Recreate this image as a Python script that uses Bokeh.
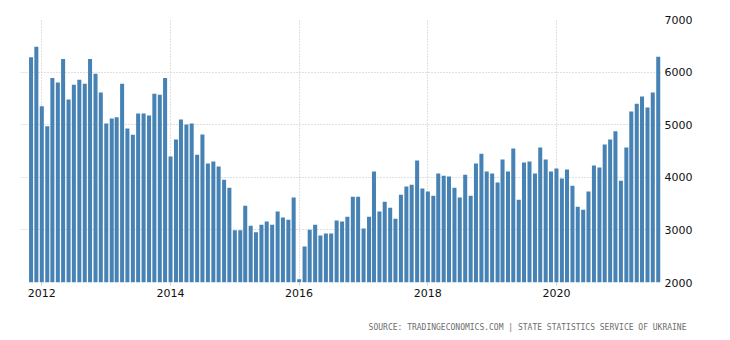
import pandas as pd
from bokeh.plotting import figure
from bokeh.models import Range1d, FixedTicker, DatetimeTickFormatter, Title, ColumnDataSource, NumeralTickFormatter
from bokeh.embed import file_html
from bokeh.resources import INLINE

# Monthly values, Nov 2011 - Aug 2021
start_month = "2011-11-01"
values = [
    6280, 6480,
    5350, 4970, 5890, 5800, 6250, 5480, 5760, 5855, 5780, 6250, 5970, 5610,
    5025, 5120, 5140, 5780, 4930, 4810, 5215, 5215, 5175, 5590, 5570, 5890,
    4395, 4720, 5100, 5005, 5025, 4430, 4815, 4261, 4300, 4204, 3955, 3800,
    2995, 2995, 3460, 3080, 2955, 3100, 3160, 3100, 3350, 3235, 3195, 3615,
    2063, 2685, 3005, 3100, 2895, 2930, 2930, 3180, 3160, 3250, 3630, 3630,
    3025, 3250, 4108, 3350, 3535, 3420, 3210, 3670, 3825, 3860, 4318, 3785,
    3730, 3650, 4070, 4030, 4013, 3800, 3615, 4050, 3650, 4260, 4450, 4108,
    4070, 3900, 4337, 4108, 4548, 3575, 4280, 4300, 4070, 4567, 4337, 4108,
    4166, 3975, 4146, 3840, 3440, 3385, 3730, 4223, 4185, 4625, 4720, 4875,
    3935, 4567, 5250, 5400, 5535, 5325, 5610, 6290,
]
dates = pd.date_range(start_month, periods=len(values), freq="MS")
tick_years = ["2012-01-01", "2014-01-01", "2016-01-01", "2018-01-01", "2020-01-01"]
y_ticks = [2000, 3000, 4000, 5000, 6000, 7000]
source_text = "SOURCE: TRADINGECONOMICS.COM | STATE STATISTICS SERVICE OF UKRAINE"

src = ColumnDataSource(dict(x=dates, top=values))

day_ms = 24 * 3600 * 1000
month_ms = 30.44 * day_ms
x0 = pd.Timestamp(start_month).value / 1e6

p = figure(width=730, height=340, output_backend="svg", toolbar_location=None,
           x_axis_type="datetime", y_axis_location="right",
           x_range=Range1d(x0 - 1.97 * month_ms, x0 + 117.78 * month_ms),
           y_range=Range1d(2000, 7000),
           min_border_left=20, min_border_right=68, min_border_top=19, min_border_bottom=56)
p.outline_line_color = None
p.background_fill_color = "white"
p.border_fill_color = "white"

p.vbar(x="x", top="top", bottom=2000, width=0.75 * month_ms, source=src,
       fill_color="#4682b4", line_color=None)

tick_ms = [pd.Timestamp(t).value / 1e6 for t in tick_years]
p.xaxis.ticker = FixedTicker(ticks=tick_ms)
p.xaxis.formatter = DatetimeTickFormatter(years="%Y", months="%Y", days="%Y", hours="%Y")
p.yaxis.ticker = FixedTicker(ticks=y_ticks)
p.yaxis.formatter = NumeralTickFormatter(format="0")

for ax in (p.xaxis, p.yaxis):
    ax.axis_line_color = None
    ax.minor_tick_line_color = None
    ax.major_label_text_font = "DejaVu Sans"
    ax.major_label_text_font_size = "11px"
    ax.major_label_text_color = "#111111"
p.yaxis.major_tick_line_color = None
p.yaxis.major_tick_out = 0
p.yaxis.major_label_standoff = 2
p.xaxis.major_tick_line_color = "#cccccc"
p.xaxis.major_tick_out = 3
p.xaxis.major_tick_in = 0
p.xaxis.major_label_standoff = 3
# blank spacer below the tick labels, to push the source line down
p.xaxis.axis_label = " "
p.xaxis.axis_label_text_font_size = "2px"
p.xaxis.axis_label_standoff = 7

p.xgrid.ticker = FixedTicker(ticks=tick_ms)
p.ygrid.ticker = FixedTicker(ticks=y_ticks)
for g in (p.xgrid, p.ygrid):
    g.grid_line_color = "#c0c0c0"
    g.grid_line_dash = "1 2"
    g.grid_line_width = 1

src_title = Title(text=source_text, align="right", offset=-24, standoff=18,
                  text_font="DejaVu Sans Mono", text_font_size="8px",
                  text_font_style="normal", text_color="#6e6e6e")
p.add_layout(src_title, "below")

open("out.html", "w").write(file_html(p, INLINE))
